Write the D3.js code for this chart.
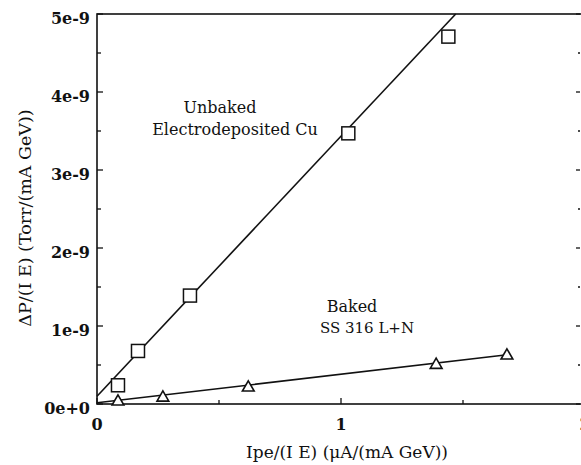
<!DOCTYPE html>
<html>
<head>
<meta charset="utf-8">
<script src="https://cdn.jsdelivr.net/npm/d3@7"></script>
<style>
  body { margin: 0; background: #fff; }
  text { font-family: "DejaVu Serif", "Liberation Serif", serif; fill: #111; }
</style>
</head>
<body>
<div id="chart"></div>
<script>
// data (x in uA/(mA GeV), y in Torr/(mA GeV))
var cuX = [0.086, 0.168, 0.381, 1.03, 1.44];
var cuY = [0.24e-9, 0.68e-9, 1.39e-9, 3.47e-9, 4.71e-9];
var ssX = [0.086, 0.27, 0.62, 1.39, 1.68];
var ssY = [0.03e-9, 0.08e-9, 0.21e-9, 0.50e-9, 0.62e-9];
// fitted lines [x0, y0, x1, y1]
var cuFit = [0, 0.10e-9, 1.47, 5.0e-9];
var ssFit = [0, 0.015e-9, 1.69, 0.635e-9];
var yTicks = [0, 1e-9, 2e-9, 3e-9, 4e-9, 5e-9];
var yTickLabels = ["0e+0", "1e-9", "2e-9", "3e-9", "4e-9", "5e-9"];
var xTicks = [0, 1, 2];
var xTickLabels = ["0", "1", "2"];

var width = 581, height = 465;
// plot box (right side runs past the picture edge, like the scan)
var pLeft = 97, pRight = 585, pTop = 14, pBottom = 404;

var svg = d3.select("#chart").append("svg")
    .attr("width", width)
    .attr("height", height);

var x = d3.scaleLinear().domain([0, 2]).range([pLeft, pRight]);
var y = d3.scaleLinear().domain([0, 5e-9]).range([pBottom, pTop]);

// frame
svg.append("rect")
    .attr("x", pLeft).attr("y", pTop)
    .attr("width", pRight - pLeft).attr("height", pBottom - pTop)
    .attr("fill", "none").attr("stroke", "#111").attr("stroke-width", 1.6);

// inward ticks, majors and halves
var yMinor = d3.range(0, 5.01e-9, 0.5e-9);
var xMinor = d3.range(0, 2.01, 0.5);

yMinor.forEach(function (v, i) {
    var len = (i % 2 == 0) ? 6 : 4;
    svg.append("line").attr("x1", pLeft).attr("x2", pLeft + len)
        .attr("y1", y(v)).attr("y2", y(v)).attr("stroke", "#111").attr("stroke-width", 1.3);
    svg.append("line").attr("x1", 580).attr("x2", 580 - len + 2)
        .attr("y1", y(v)).attr("y2", y(v)).attr("stroke", "#111").attr("stroke-width", 1.3);
});
xMinor.forEach(function (v, i) {
    var len = (i % 2 == 0) ? 6 : 4;
    svg.append("line").attr("x1", x(v)).attr("x2", x(v))
        .attr("y1", pBottom).attr("y2", pBottom - len).attr("stroke", "#111").attr("stroke-width", 1.3);
});

// tick labels
svg.selectAll(".ylab")
    .data(yTicks)
    .enter().append("text")
    .attr("class", "ylab")
    .attr("x", pLeft - 7)
    .attr("y", function (d) { return y(d) + 9.5; })
    .attr("text-anchor", "end")
    .style("font-size", "16px")
    .style("font-weight", "bold")
    .text(function (d, i) { return yTickLabels[i]; });

svg.selectAll(".xlab")
    .data(xTicks)
    .enter().append("text")
    .attr("class", "xlab")
    .attr("x", function (d) { return x(d); })
    .attr("y", 430)
    .attr("text-anchor", "middle")
    .style("font-size", "16px")
    .style("font-weight", "bold")
    .text(function (d, i) { return xTickLabels[i]; });

// axis titles
svg.append("text")
    .attr("x", 347).attr("y", 458)
    .attr("text-anchor", "middle")
    .style("font-size", "17px")
    .text("Ipe/(I E) (\u03bcA/(mA GeV))");

svg.append("text")
    .attr("transform", "translate(31,218) rotate(-90)")
    .attr("text-anchor", "middle")
    .style("font-size", "17.5px")
    .text("\u0394P/(I E) (Torr/(mA GeV))");

// fit lines
var plot = svg.append("g");
[cuFit, ssFit].forEach(function (f) {
    plot.append("line")
        .attr("x1", x(f[0])).attr("y1", y(f[1]))
        .attr("x2", x(f[2])).attr("y2", y(f[3]))
        .attr("stroke", "#111").attr("stroke-width", 1.6);
});

// squares
var sq = 13;
plot.selectAll(".sq")
    .data(d3.zip(cuX, cuY))
    .enter().append("rect")
    .attr("class", "sq")
    .attr("x", function (d) { return x(d[0]) - sq / 2; })
    .attr("y", function (d) { return y(d[1]) - sq / 2; })
    .attr("width", sq).attr("height", sq)
    .attr("fill", "#fff").attr("stroke", "#111").attr("stroke-width", 1.5);

// triangles
var tri = d3.symbol().type(d3.symbolTriangle).size(60);
plot.selectAll(".tri")
    .data(d3.zip(ssX, ssY))
    .enter().append("path")
    .attr("class", "tri")
    .attr("transform", function (d) { return "translate(" + x(d[0]) + "," + y(d[1]) + ")"; })
    .attr("d", tri)
    .attr("fill", "#fff").attr("stroke", "#111").attr("stroke-width", 1.6);

// annotations
var notes = [
    ["Unbaked", 220, 113, 16],
    ["Electrodeposited Cu", 235, 135, 16],
    ["Baked", 352, 312, 16],
    ["SS 316 L+N", 367, 333, 15]
];
svg.selectAll(".note")
    .data(notes)
    .enter().append("text")
    .attr("class", "note")
    .attr("x", function (d) { return d[1]; })
    .attr("y", function (d) { return d[2]; })
    .attr("text-anchor", "middle")
    .style("font-size", function (d) { return d[3] + "px"; })
    .text(function (d) { return d[0]; });
</script>
</body>
</html>
